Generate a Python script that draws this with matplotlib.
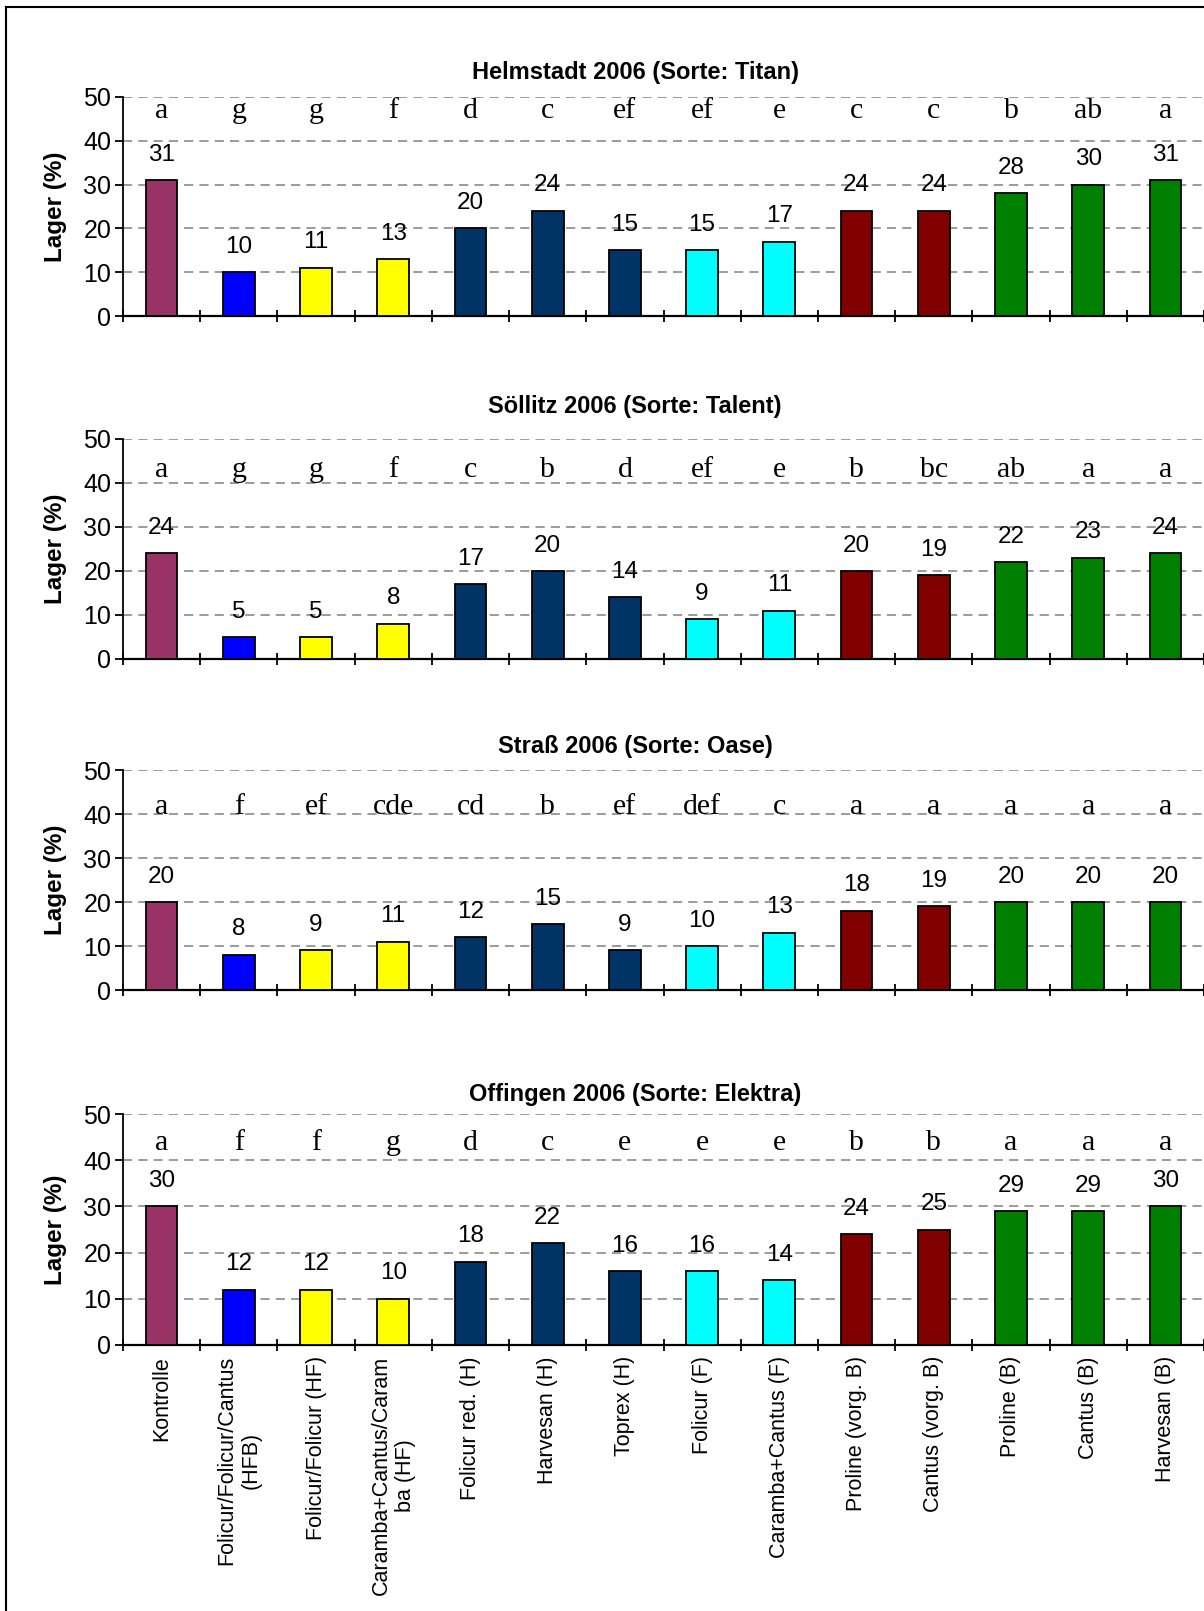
import matplotlib
matplotlib.use("Agg")
import matplotlib.pyplot as plt
from matplotlib.lines import Line2D

plt.rcParams["font.family"] = ["Liberation Sans", "DejaVu Sans"]

# treatments (x axis)
treatments = [
    "Kontrolle", "Folicur/Folicur/Cantus\n(HFB)", "Folicur/Folicur (HF)",
    "Caramba+Cantus/Caram\nba (HF)", "Folicur red. (H)", "Harvesan (H)",
    "Toprex (H)", "Folicur (F)", "Caramba+Cantus (F)", "Proline (vorg. B)",
    "Cantus (vorg. B)", "Proline (B)", "Cantus (B)", "Harvesan (B)",
]
bar_colors = ["#993366", "#0000FF", "#FFFF00", "#FFFF00", "#003366", "#003366",
              "#003366", "#00FFFF", "#00FFFF", "#800000", "#800000", "#008000",
              "#008000", "#008000"]

site_titles = ["Helmstadt 2006 (Sorte: Titan)", "Söllitz 2006 (Sorte: Talent)",
               "Straß 2006 (Sorte: Oase)", "Offingen 2006 (Sorte: Elektra)"]

helmstadt = [31, 10, 11, 13, 20, 24, 15, 15, 17, 24, 24, 28, 30, 31]
soellitz = [24, 5, 5, 8, 17, 20, 14, 9, 11, 20, 19, 22, 23, 24]
strass = [20, 8, 9, 11, 12, 15, 9, 10, 13, 18, 19, 20, 20, 20]
offingen = [30, 12, 12, 10, 18, 22, 16, 16, 14, 24, 25, 29, 29, 30]

helmstadt_letters = ["a", "g", "g", "f", "d", "c", "ef", "ef", "e", "c", "c", "b", "ab", "a"]
soellitz_letters = ["a", "g", "g", "f", "c", "b", "d", "ef", "e", "b", "bc", "ab", "a", "a"]
strass_letters = ["a", "f", "ef", "cde", "cd", "b", "ef", "def", "c", "a", "a", "a", "a", "a"]
offingen_letters = ["a", "f", "f", "g", "d", "c", "e", "e", "e", "b", "b", "a", "a", "a"]

values = [helmstadt, soellitz, strass, offingen]
letters = [helmstadt_letters, soellitz_letters, strass_letters, offingen_letters]

W, H = 1204, 1611
fig = plt.figure(figsize=(W / 100, H / 100), dpi=100)

# panel layout in pixels: (top, bottom, title y, letter baseline in data units)
panels = [(97, 316, 72, 45.2), (439, 659, 407, 41.3),
          (770, 990, 746, 40.0), (1114, 1345, 1095, 42.3)]
left_px = 123

x = list(range(len(treatments)))
for i, (top, bottom, title_y, letter_y) in enumerate(panels):
    ax = fig.add_axes([left_px / W, 1 - bottom / H, 1 - left_px / W, (bottom - top) / H])
    ax.bar(x, values[i], width=0.41, color=bar_colors, edgecolor="black",
           linewidth=1.3, zorder=3)
    ax.set_xlim(-0.5, len(treatments) - 0.5)
    ax.set_ylim(0, 50)
    ax.set_yticks(range(0, 51, 10))
    ax.yaxis.grid(True, color="#808080", linestyle=(0, (6, 4)), linewidth=1.1)
    ax.set_axisbelow(True)
    for s in ["top", "right"]:
        ax.spines[s].set_visible(False)
    ax.spines["left"].set_linewidth(1.3)
    ax.spines["bottom"].set_linewidth(1.6)
    ax.tick_params(axis="y", direction="out", length=5.5, width=1.3,
                   labelsize=18, pad=3)
    ax.set_xticks(x)
    ax.set_xticks([k - 0.5 for k in range(len(treatments) + 1)], minor=True)
    ax.tick_params(axis="x", which="major", length=0, pad=8)
    ax.tick_params(axis="x", which="minor", direction="inout", length=9, width=1.3)
    if i == len(panels) - 1:
        ax.set_xticklabels(treatments, rotation=90, fontsize=15.5,
                           multialignment="center")
    else:
        ax.set_xticklabels([])

    ax.set_ylabel("Lager (%)", fontsize=17.5, fontweight="bold")
    ax.yaxis.set_label_coords(-0.052, 0.5)

    for xi, v in zip(x, values[i]):
        ax.annotate(str(v), (xi, v), xytext=(0, 14), textcoords="offset points",
                    ha="center", va="baseline", fontsize=17.5)
    for xi, lt in zip(x, letters[i]):
        ax.text(xi, letter_y, lt, ha="center", va="baseline", fontsize=21.5,
                family=["Liberation Serif", "DejaVu Serif"])

    fig.text(635 / W, 1 - title_y / H, site_titles[i], ha="center", va="center",
             fontsize=17, fontweight="bold")

# outer frame (cut off at right and bottom)
fig.add_artist(Line2D([5.5 / W, 5.5 / W], [0, 1 - 6.5 / H], color="black",
                      linewidth=1.5, transform=fig.transFigure))
fig.add_artist(Line2D([5.5 / W, 1], [1 - 6.5 / H, 1 - 6.5 / H], color="black",
                      linewidth=1.5, transform=fig.transFigure))

fig.savefig("out.png", dpi=100)
